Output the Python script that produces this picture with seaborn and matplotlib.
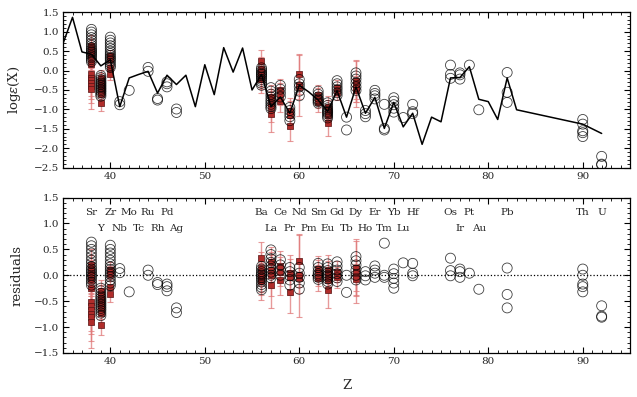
import numpy as np
import pandas as pd
import seaborn as sns
import matplotlib.pyplot as plt
from matplotlib.ticker import MultipleLocator

# model abundance pattern (black line)
model_z = list(range(35, 84)) + [90, 92]
model_val = [0.70, 1.37, 0.48, 0.42, 0.12, 0.28, -0.93, -0.19, -0.10, -0.02,
             -0.58, -0.12, -0.36, -0.12, -0.93, 0.15, -0.62, 0.59, -0.04, 0.58,
             -0.50, -0.10, -0.93, -0.68, -1.10, -0.38, -0.55, -0.76, -1.05, -0.52,
             -1.20, -0.42, -1.10, -0.69, -1.49, -0.82, -1.45, -1.10, -1.90, -1.20,
             -1.32, -0.19, -0.18, 0.10, -0.74, -0.80, -1.26, -0.19, -1.01,
             -1.38, -1.62]

# residuals of the literature stars (open circles), per element Z
circle_res = {
    38: [0.64, 0.57, 0.50, 0.43, 0.36, 0.29, 0.23, 0.17, 0.12, 0.08, 0.04, 0.00, -0.04, -0.09, -0.14, -0.19],
    39: [-0.25, -0.30, -0.35, -0.40, -0.44, -0.48, -0.52, -0.56, -0.60, -0.64, -0.68, -0.73, -0.78],
    40: [0.58, 0.50, 0.43, 0.36, 0.29, 0.22, 0.16, 0.11, 0.06, 0.02, -0.03, -0.09, -0.15, -0.20],
    41: [0.13, 0.05],
    42: [-0.32],
    44: [0.10, 0.00],
    45: [-0.14, -0.18],
    46: [-0.17, -0.22, -0.30],
    47: [-0.63, -0.72],
    56: [0.17, 0.12, 0.07, 0.03, 0.00, -0.04, -0.08, -0.13, -0.18, -0.23, -0.28],
    57: [0.49, 0.40, 0.32, 0.25, 0.18, 0.12, 0.06, 0.00, -0.05],
    58: [0.30, 0.20, 0.10, 0.00],
    59: [0.15, 0.07, -0.01, -0.09, -0.19],
    60: [0.15, 0.04, -0.04, -0.15, -0.27],
    62: [0.23, 0.15, 0.08, 0.03, 0.00, -0.04, -0.08],
    63: [0.22, 0.15, 0.09, 0.04, 0.00, -0.03, -0.07, -0.12, -0.17],
    64: [0.26, 0.18, 0.10, 0.03, -0.05, -0.12],
    65: [0.00, -0.33],
    66: [0.36, 0.28, 0.20, 0.10, 0.00, -0.09],
    67: [0.07, -0.01, -0.09],
    68: [0.18, 0.10, 0.04, -0.04],
    69: [0.62, 0.00, -0.04],
    70: [0.12, 0.03, -0.06, -0.15, -0.25],
    71: [0.24],
    72: [0.23, 0.04, -0.01],
    76: [0.33, 0.09, -0.01],
    77: [0.12, 0.07, -0.04],
    78: [0.04],
    79: [-0.27],
    82: [0.14, -0.37, -0.63],
    90: [0.12, 0.00, -0.17, -0.22, -0.32],
    92: [-0.59, -0.79, -0.81],
}

# residuals and errors of this work (red squares)
square_res = {
    38: [0.20, 0.10, 0.00, -0.10, -0.25, -0.52, -0.60, -0.67, -0.74, -0.81, -0.90],
    39: [-0.30, -0.38, -0.45, -0.52, -0.58, -0.65, -0.72, -0.96],
    40: [0.10, 0.03, -0.22, -0.36],
    56: [0.34, 0.15, 0.05, -0.02, -0.08, -0.12],
    57: [0.25, 0.10, 0.00, -0.19],
    58: [0.18, 0.07, -0.10],
    59: [0.05, -0.04, -0.32],
    60: [0.28, 0.00, -0.05],
    62: [0.13, 0.05, -0.06],
    63: [0.10, 0.03, -0.05, -0.10, -0.29],
    64: [0.07, -0.04],
    66: [0.15, 0.07, -0.01, -0.08],
}
square_err = {
    38: [0.3, 0.3, 0.3, 0.3, 0.3, 0.35, 0.35, 0.4, 0.4, 0.45, 0.5],
    39: [0.2, 0.2, 0.2, 0.2, 0.2, 0.2, 0.2, 0.2],
    40: [0.15, 0.15, 0.15, 0.16],
    56: [0.3, 0.3, 0.25, 0.3, 0.3, 0.35],
    57: [0.3, 0.35, 0.4, 0.45],
    58: [0.28, 0.28, 0.28],
    59: [0.35, 0.35, 0.4],
    60: [0.5, 0.8, 0.3],
    62: [0.25, 0.25, 0.25],
    63: [0.3, 0.25, 0.2, 0.2, 0.35],
    64: [0.2, 0.2],
    66: [0.55, 0.6, 0.3, 0.3],
}

elem_row1 = {38: "Sr", 40: "Zr", 42: "Mo", 44: "Ru", 46: "Pd", 56: "Ba", 58: "Ce",
             60: "Nd", 62: "Sm", 64: "Gd", 66: "Dy", 68: "Er", 70: "Yb", 72: "Hf",
             76: "Os", 78: "Pt", 82: "Pb", 90: "Th", 92: "U"}
elem_row2 = {39: "Y", 41: "Nb", 43: "Tc", 45: "Rh", 47: "Ag", 57: "La", 59: "Pr",
             61: "Pm", 63: "Eu", 65: "Tb", 67: "Ho", 69: "Tm", 71: "Lu", 77: "Ir", 79: "Au"}


def build_df(res, err=None):
    model = dict(zip(model_z, model_val))
    rows = []
    for z, vals in res.items():
        for i, r in enumerate(vals):
            e = err[z][i] if err is not None else 0.0
            rows.append({"Z": z, "res": r, "obs": model[z] + r, "err": e})
    return pd.DataFrame(rows)


model_df = pd.DataFrame({"Z": model_z, "val": model_val})
circ_df = build_df(circle_res)
sq_df = build_df(square_res, square_err)

sns.set_theme(style="ticks")
plt.rcParams["font.family"] = ["DejaVu Serif"]
plt.rcParams["mathtext.fontset"] = "dejavuserif"

fig, (ax1, ax2) = plt.subplots(2, 1, figsize=(6.37, 3.97), dpi=100)
fig.subplots_adjust(left=0.099, right=0.989, top=0.969, bottom=0.111, hspace=0.193)

for ax, ycol in [(ax1, "obs"), (ax2, "res")]:
    ax.errorbar(sq_df["Z"], sq_df[ycol], yerr=sq_df["err"], fmt="none",
                ecolor="#e07878", elinewidth=1.0, capsize=2.2, capthick=0.8,
                alpha=0.75, zorder=1.5)
    sns.scatterplot(data=sq_df, x="Z", y=ycol, ax=ax, marker="s", s=22,
                    color="#b02c2a", edgecolor="#551212", linewidth=0.5, zorder=2)
    sns.scatterplot(data=circ_df, x="Z", y=ycol, ax=ax, marker="o", s=52,
                    fc="none", ec="black", linewidth=0.6, alpha=0.75, zorder=3)

sns.lineplot(data=model_df, x="Z", y="val", ax=ax1, color="black", lw=1.1,
             sort=False, zorder=4)

ax2.axhline(0, color="black", ls=":", lw=0.9, zorder=1)

for z, s in elem_row1.items():
    ax2.text(z, 1.22, s, ha="center", va="center", fontsize=7.5)
for z, s in elem_row2.items():
    ax2.text(z, 0.91, s, ha="center", va="center", fontsize=7.5)

ax1.set_ylim(-2.5, 1.5)
ax2.set_ylim(-1.5, 1.5)
for ax in (ax1, ax2):
    ax.set_xlim(35, 95)
    ax.xaxis.set_major_locator(MultipleLocator(10))
    ax.xaxis.set_minor_locator(MultipleLocator(1))
    ax.yaxis.set_major_locator(MultipleLocator(0.5))
    ax.yaxis.set_minor_locator(MultipleLocator(0.1))
    ax.tick_params(which="both", direction="in", top=True, right=True,
                   labelsize=7.5, color="black", pad=3)
    ax.tick_params(which="major", length=4.5, width=0.8)
    ax.tick_params(which="minor", length=2.2, width=0.6)
    for sp in ax.spines.values():
        sp.set_color("black")
        sp.set_linewidth(0.9)
    ax.set_xlabel("")
    ax.yaxis.set_label_coords(-0.07, 0.5)

ax1.set_ylabel(r"log$\varepsilon$(X)", fontsize=9.5)
ax2.set_ylabel("residuals", fontsize=9.5)
ax2.set_xlabel("Z", fontsize=9.5)
ax2.xaxis.set_label_coords(0.5, -0.165)

fig.savefig("out.png", dpi=100)
